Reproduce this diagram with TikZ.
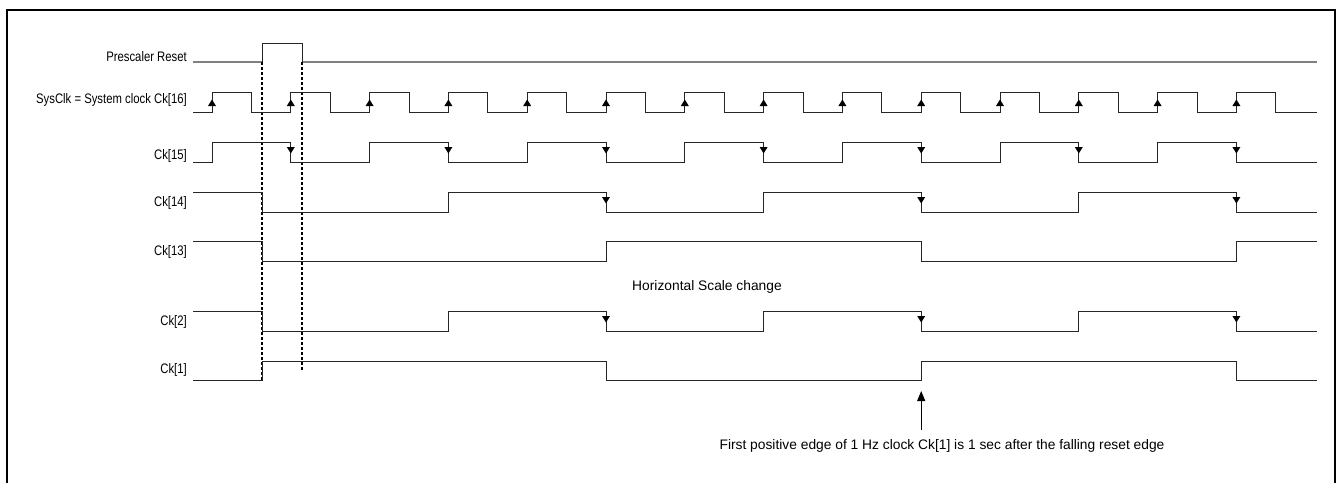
\documentclass[tikz,border=0pt]{standalone}
\usepackage{fontspec}
\setmainfont{Liberation Sans}
\newfontfamily\narrowsans[FakeStretch=0.82]{Liberation Sans}
\usetikzlibrary{arrows.meta}
\newcommand\riseMark[2]{\fill ({#1-4},{#2}) -- ({#1+4},{#2}) -- ({#1},{#2-6.5}) -- cycle;}
\newcommand\fallMark[2]{\fill ({#1-4},{#2}) -- ({#1+4},{#2}) -- ({#1},{#2+6.5}) -- cycle;}
\begin{document}
\begin{tikzpicture}[x=1pt,y=-1pt,
  wave/.style={line width=1pt,black!85},
  resetline/.style={line width=1.4pt,black!50},
  guide/.style={line width=1.1pt,dashed,dash pattern=on 3pt off 2pt},
  lbl/.style={anchor=east,inner sep=0pt,font=\narrowsans\fontsize{13.8}{16}\selectfont},
  note/.style={inner sep=0pt,font=\fontsize{13.8}{16}\selectfont},
  frame/.style={line width=2.5pt,black}]
\useasboundingbox (0,0) rectangle (1342,483);
\def\P{78.8}
\def\H{39.4}
% frame
\draw[frame] (7,483) -- (7,10) -- (1335,10) -- (1335,483);
% labels
\node[lbl] (lreset) at (187,57) {Prescaler Reset};
\node[lbl] (lsys) at (187,100) {SysClk = System clock Ck[16]};
\node[lbl] (l15) at (187,156) {Ck[15]};
\node[lbl] (l14) at (187,203) {Ck[14]};
\node[lbl] (l13) at (187,252) {Ck[13]};
\node[lbl] (l2) at (187,322) {Ck[2]};
\node[lbl] (l1) at (187,370) {Ck[1]};
% prescaler reset
\draw[resetline] (193,62) -- (262,62);
\draw[resetline] (302,62) -- (1317,62);
\draw[wave] (262,62) -- (262,43) -- (302,43) -- (302,62);
% dashed guides
\draw[guide] (262,62) -- (262,380);
\draw[guide] (302,62) -- (302,371);
% SysClk
\draw[wave] (193,112) \foreach \k in {0,...,13} {
  -- ({212+\P*\k},112) -- ({212+\P*\k},92) -- ({212+\H+\P*\k},92) -- ({212+\H+\P*\k},112) } -- (1317,112);
\foreach \k in {0,...,13} { \riseMark{212+\P*\k}{106} }
% Ck[15]
\draw[wave] (193,162) \foreach \k in {0,2,...,12} {
  -- ({212+\P*\k},162) -- ({212+\P*\k},142) -- ({212+\P*(\k+1)},142) -- ({212+\P*(\k+1)},162) } -- (1317,162);
\foreach \k in {1,3,...,13} { \fallMark{212+\P*\k}{147} }
% Ck[14]
\draw[wave] (193,192) -- (262,192) -- (262,212) -- ({212+3*\P},212) -- ({212+3*\P},192)
  -- ({212+5*\P},192) -- ({212+5*\P},212) -- ({212+7*\P},212) -- ({212+7*\P},192)
  -- ({212+9*\P},192) -- ({212+9*\P},212) -- ({212+11*\P},212) -- ({212+11*\P},192)
  -- ({212+13*\P},192) -- ({212+13*\P},212) -- (1317,212);
\foreach \k in {5,9,13} { \fallMark{212+\P*\k}{197} }
% Ck[13]
\draw[wave] (193,241) -- (262,241) -- (262,261) -- ({212+5*\P},261) -- ({212+5*\P},241)
  -- ({212+9*\P},241) -- ({212+9*\P},261) -- ({212+13*\P},261) -- ({212+13*\P},241) -- (1317,241);
% scale change note
\node[note] (scale) at (707,287) {Horizontal Scale change};
% Ck[2]
\draw[wave] (193,311) -- (262,311) -- (262,331) -- ({212+3*\P},331) -- ({212+3*\P},311)
  -- ({212+5*\P},311) -- ({212+5*\P},331) -- ({212+7*\P},331) -- ({212+7*\P},311)
  -- ({212+9*\P},311) -- ({212+9*\P},331) -- ({212+11*\P},331) -- ({212+11*\P},311)
  -- ({212+13*\P},311) -- ({212+13*\P},331) -- (1317,331);
\foreach \k in {5,9,13} { \fallMark{212+\P*\k}{316} }
% Ck[1]
\draw[wave] (193,380) -- (262,380) -- (262,361) -- ({212+5*\P},361) -- ({212+5*\P},380)
  -- ({212+9*\P},380) -- ({212+9*\P},361) -- ({212+13*\P},361) -- ({212+13*\P},380) -- (1317,380);
% annotation
\coordinate (edge1) at ({212+9*\P},391);
\coordinate (tail1) at ({212+9*\P},430);
\node[note] (firstedge) at (942,446) {First positive edge of 1 Hz clock Ck[1] is 1 sec after the falling reset edge};
\draw[line width=1pt,-{Triangle[length=10pt,width=8pt]}] (tail1) -- (edge1);
\end{tikzpicture}
\end{document}
